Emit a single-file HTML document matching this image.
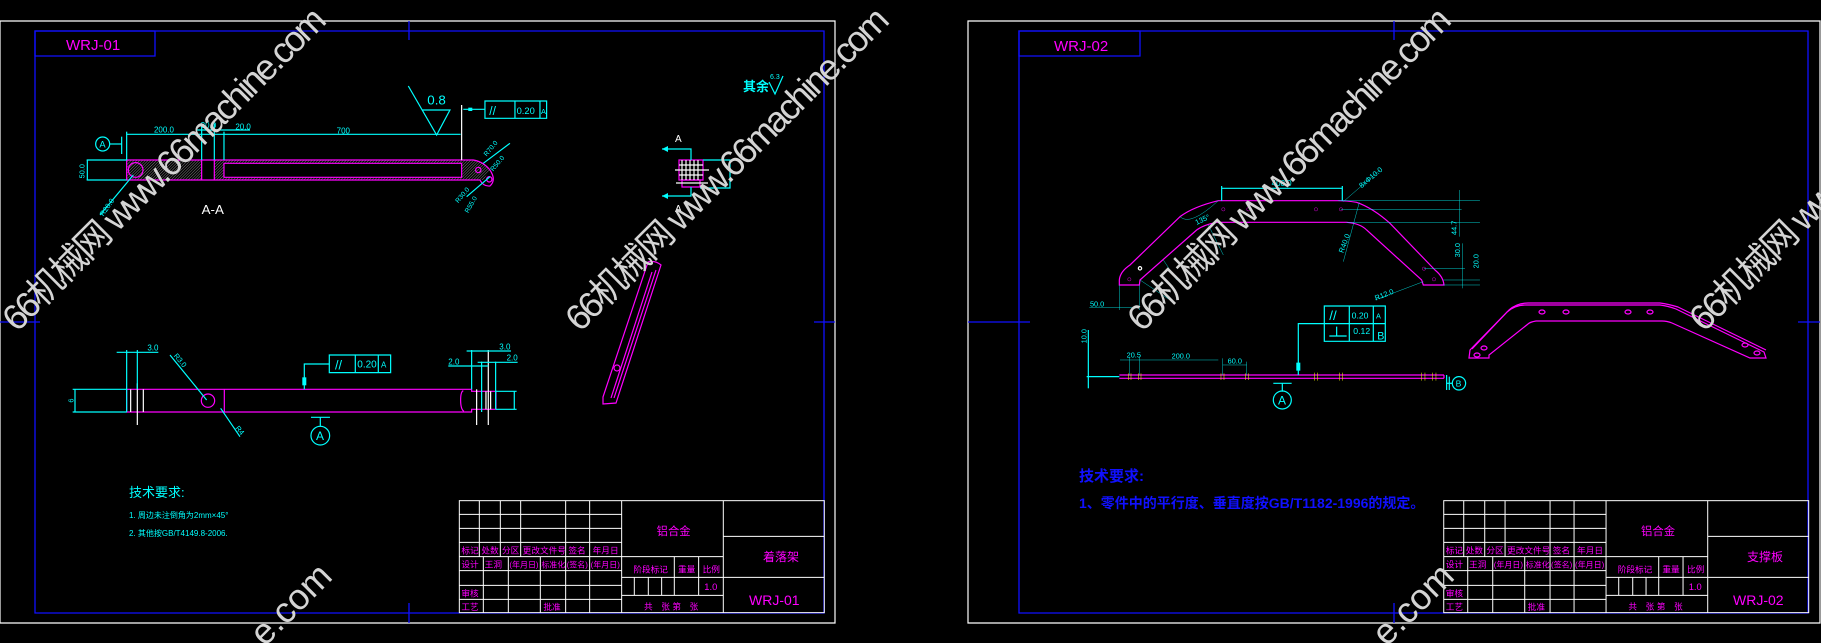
<!DOCTYPE html>
<html><head><meta charset="utf-8"><style>
html,body{margin:0;padding:0;background:#000;width:1821px;height:643px;overflow:hidden;}
svg{display:block;}
text{font-family:"Liberation Sans","Noto Sans CJK SC",sans-serif;}
.m{fill:none;stroke:#ff00ff;stroke-width:1.2;vector-effect:non-scaling-stroke;}
.c{fill:none;stroke:#00ffff;stroke-width:1.2;vector-effect:non-scaling-stroke;}
.w{fill:none;stroke:#ffffff;stroke-width:1.2;vector-effect:non-scaling-stroke;}
.y{fill:none;stroke:#ffff00;stroke-width:1.5;vector-effect:non-scaling-stroke;}
.b{fill:none;stroke:#1010ff;stroke-width:1.3;vector-effect:non-scaling-stroke;}
.ct{fill:#00ffff;}
.mt{fill:#ff00ff;}
.wm{fill:#d4d4d4;font-size:36px;}
</style></head><body>
<svg width="1821" height="643" viewBox="0 0 1821 643" xmlns="http://www.w3.org/2000/svg">
<defs>
<pattern id="h" width="6" height="6" patternUnits="userSpaceOnUse" patternTransform="rotate(45)">
<line x1="0" y1="0" x2="0" y2="6" stroke="#fff" stroke-width="1.5"/></pattern>
<g id="tb">
<rect x="58" y="62" width="1095" height="336" fill="none" stroke="#fff" stroke-width="3"/>
<g stroke="#fff" stroke-width="3">
<line x1="58" y1="103" x2="545" y2="103"/><line x1="58" y1="145" x2="545" y2="145"/>
<line x1="58" y1="187" x2="545" y2="187"/><line x1="58" y1="230" x2="850" y2="230"/>
<line x1="58" y1="272" x2="545" y2="272"/><line x1="58" y1="316" x2="545" y2="316"/>
<line x1="58" y1="358" x2="545" y2="358"/>
<line x1="118" y1="62" x2="118" y2="230"/><line x1="181" y1="62" x2="181" y2="230"/>
<line x1="242" y1="62" x2="242" y2="230"/><line x1="377" y1="62" x2="377" y2="398"/>
<line x1="449" y1="62" x2="449" y2="398"/><line x1="545" y1="62" x2="545" y2="398"/>
<line x1="130" y1="230" x2="130" y2="398"/><line x1="205" y1="230" x2="205" y2="398"/>
<line x1="301" y1="230" x2="301" y2="398"/>
<line x1="850" y1="62" x2="850" y2="398"/>
<line x1="545" y1="292" x2="850" y2="292"/><line x1="545" y1="346" x2="850" y2="346"/>
<line x1="703" y1="230" x2="703" y2="346"/><line x1="776" y1="230" x2="776" y2="346"/>
<line x1="583" y1="292" x2="583" y2="346"/><line x1="625" y1="292" x2="625" y2="346"/><line x1="665" y1="292" x2="665" y2="346"/>
<line x1="850" y1="169" x2="1153" y2="169"/><line x1="850" y1="292" x2="1153" y2="292"/>
</g>
<g class="mt" font-size="26">
<text x="64" y="220">标记</text><text x="124" y="220">处数</text><text x="186" y="220">分区</text>
<text x="248" y="220">更改文件号</text><text x="385" y="220">签名</text><text x="458" y="220">年月日</text>
<text x="64" y="262">设计</text><text x="134" y="262">王洞</text><text x="208" y="262" font-size="24">(年月日)</text>
<text x="304" y="262" font-size="24">标准化</text><text x="380" y="262" font-size="24">(签名)</text><text x="452" y="262" font-size="24">(年月日)</text>
<text x="64" y="350">审核</text><text x="64" y="390">工艺</text><text x="310" y="390">批准</text>
<text x="580" y="278">阶段标记</text><text x="714" y="278">重量</text><text x="788" y="278">比例</text>
<text x="793" y="330" font-size="28">1.0</text>
<text x="612" y="388">共　张 第　张</text>
<text x="650" y="165" font-size="34">铝合金</text>
</g>
</g>
</defs>

<rect x="0" y="21" width="835" height="602" class="w"/>
<rect x="35" y="31" width="789" height="582" class="b"/>
<rect x="35" y="31" width="120" height="25" class="b"/>
<line x1="409" y1="21" x2="409" y2="40" class="b"/><line x1="409" y1="603" x2="409" y2="623" class="b"/>
<line x1="0" y1="322" x2="40" y2="322" class="b"/><line x1="814" y1="322" x2="835" y2="322" class="b"/>
<text x="66" y="50" class="mt" font-size="15">WRJ-01</text>

<rect x="968" y="21" width="852" height="602" class="w"/>
<rect x="1019" y="31" width="789" height="582" class="b"/>
<rect x="1019" y="31" width="121" height="25" class="b"/>
<line x1="1394" y1="21" x2="1394" y2="40" class="b"/><line x1="1394" y1="603" x2="1394" y2="623" class="b"/>
<line x1="968" y1="322" x2="1030" y2="322" class="b"/><line x1="1798" y1="322" x2="1820" y2="322" class="b"/>
<text x="1054" y="51" class="mt" font-size="15">WRJ-02</text>

<g transform="translate(440,480) scale(0.3333)"><use href="#tb"/></g>
<g transform="translate(1424.4,480) scale(0.3333)"><use href="#tb"/></g>
<text x="749" y="605" class="mt" font-size="14">WRJ-01</text>
<text x="1733" y="605" class="mt" font-size="14">WRJ-02</text>
<text x="763" y="561" class="mt" font-size="12">着落架</text>
<text x="1747" y="561" class="mt" font-size="12">支撑板</text>

<g transform="translate(50,80) scale(0.3333)">
<rect x="230" y="240" width="225" height="60" fill="url(#h)"/>
<rect x="493" y="240" width="29" height="60" fill="url(#h)"/>
<rect x="522" y="240" width="713" height="10" fill="url(#h)"/>
<rect x="522" y="292" width="713" height="8" fill="url(#h)"/>
<path d="M1235,240 L1270,240 Q1300,245 1320,270 L1300,300 L1235,300Z" fill="url(#h)"/>
<path class="m" d="M230,240 L1270,240 Q1300,245 1320,270 Q1340,300 1320,318 Q1300,320 1290,300 L230,300 Z"/>
<line class="m" x1="455" y1="240" x2="455" y2="300"/><line class="m" x1="493" y1="240" x2="493" y2="300"/>
<rect class="m" x="522" y="250" width="713" height="42"/>
<circle class="m" cx="257" cy="270" r="22"/><circle class="m" cx="1285" cy="270" r="8"/><circle class="m" cx="1318" cy="298" r="8"/>
<line class="c" x1="230" y1="163" x2="1232" y2="163"/>
<line class="c" x1="230" y1="155" x2="230" y2="240"/><line class="c" x1="455" y1="130" x2="455" y2="240"/>
<line class="c" x1="493" y1="130" x2="493" y2="240"/><line class="c" x1="522" y1="155" x2="522" y2="240"/>
<line class="w" x1="1235" y1="75" x2="1235" y2="240"/>
<line class="c" x1="440" y1="150" x2="600" y2="150"/>
<g class="ct" font-size="24"><text x="312" y="158">200.0</text><text x="452" y="144">30.0</text><text x="556" y="148">20.0</text><text x="860" y="160">700</text></g>
<path class="c" d="M1075,18 L1160,165 L1200,90 L1118,90"/>
<text x="1132" y="74" class="ct" font-size="40">0.8</text>
<line class="c" x1="1240" y1="88" x2="1305" y2="88"/><rect x="1255" y="83" width="12" height="10" class="ct"/>
<rect class="c" x="1305" y="63" width="185" height="52"/>
<line class="c" x1="1395" y1="63" x2="1395" y2="115"/><line class="c" x1="1470" y1="63" x2="1470" y2="115"/>
<text x="1318" y="105" class="ct" font-size="36">//</text><text x="1400" y="102" class="ct" font-size="28">0.20</text><text x="1473" y="102" class="ct" font-size="22">A</text>
<circle class="c" cx="158" cy="192" r="21"/><text x="148" y="202" class="ct" font-size="28">A</text>
<line class="c" x1="178" y1="192" x2="215" y2="192"/><line class="c" x1="215" y1="170" x2="215" y2="222"/>
<line class="c" x1="110" y1="240" x2="230" y2="240"/><line class="c" x1="110" y1="300" x2="230" y2="300"/><line class="c" x1="112" y1="240" x2="112" y2="300"/>
<text transform="translate(104,295) rotate(-90)" class="ct" font-size="22">50.0</text>
<line class="c" x1="250" y1="285" x2="150" y2="405"/>
<text transform="translate(160,410) rotate(-55)" class="ct" font-size="22">R20.0</text>
<line class="c" x1="1300" y1="250" x2="1380" y2="190"/><line class="c" x1="1250" y1="350" x2="1320" y2="290"/>
<text transform="translate(1310,230) rotate(-50)" class="ct" font-size="20">R70.0</text>
<text transform="translate(1330,275) rotate(-50)" class="ct" font-size="20">R50.0</text>
<text transform="translate(1225,370) rotate(-50)" class="ct" font-size="20">R30.0</text>
<text transform="translate(1255,400) rotate(-60)" class="ct" font-size="20">R55.0</text>
<text x="455" y="402" fill="#fff" font-size="40">A-A</text>
</g>

<g transform="translate(50,330) scale(0.3333)">
<path class="m" d="M230,178 L1265,178 L1265,184 L1338,184 L1338,238 L1265,238 L1265,246 L230,246 Z"/>
<path class="m" d="M1240,182 Q1232,185 1232,210 Q1232,238 1242,244"/>
<line class="m" x1="523" y1="178" x2="523" y2="246"/>
<circle class="m" cx="474" cy="212" r="20"/>
<line class="c" x1="68" y1="178" x2="230" y2="178"/><line class="c" x1="68" y1="246" x2="230" y2="246"/><line class="c" x1="75" y1="178" x2="75" y2="246"/>
<text transform="translate(70,218) rotate(-90)" class="ct" font-size="22">6</text>
<line class="c" x1="230" y1="60" x2="230" y2="246"/><line class="w" x1="262" y1="160" x2="262" y2="285"/><line class="c" x1="262" y1="60" x2="262" y2="178"/>
<line class="w" x1="242" y1="178" x2="242" y2="246"/><line class="w" x1="280" y1="178" x2="280" y2="246"/>
<line class="c" x1="200" y1="67" x2="325" y2="67"/><text x="292" y="62" class="ct" font-size="24">3.0</text>
<line class="c" x1="1265" y1="60" x2="1265" y2="178"/><line class="w" x1="1280" y1="178" x2="1280" y2="285"/>
<line class="c" x1="1295" y1="95" x2="1295" y2="246"/><line class="w" x1="1315" y1="60" x2="1315" y2="285"/>
<line class="w" x1="1308" y1="184" x2="1308" y2="238"/><line class="w" x1="1322" y1="184" x2="1322" y2="238"/>
<line class="c" x1="1337" y1="95" x2="1337" y2="238"/>
<line class="c" x1="1250" y1="63" x2="1383" y2="63"/><line class="c" x1="1283" y1="97" x2="1403" y2="97"/><line class="c" x1="1195" y1="108" x2="1315" y2="108"/>
<text x="1348" y="58" class="ct" font-size="24">3.0</text><text x="1370" y="92" class="ct" font-size="24">2.0</text><text x="1195" y="103" class="ct" font-size="24">2.0</text>
<line class="c" x1="1338" y1="184" x2="1400" y2="184"/><line class="c" x1="1338" y1="238" x2="1400" y2="238"/><line class="c" x1="1393" y1="184" x2="1393" y2="238"/>
<rect class="c" x="838" y="75" width="184" height="53"/><line class="c" x1="916" y1="75" x2="916" y2="128"/><line class="c" x1="985" y1="75" x2="985" y2="128"/>
<text x="855" y="118" class="ct" font-size="38">//</text><text x="922" y="113" class="ct" font-size="30">0.20</text><text x="993" y="113" class="ct" font-size="24">A</text>
<path class="c" d="M838,102 L763,102 L763,178"/><rect x="757" y="142" width="12" height="24" class="ct"/>
<line class="c" x1="783" y1="262" x2="840" y2="262"/><line class="c" x1="811" y1="262" x2="811" y2="290"/>
<circle class="c" cx="811" cy="317" r="28"/><text x="798" y="330" class="ct" font-size="36">A</text>
<line class="c" x1="360" y1="75" x2="470" y2="210"/><line class="c" x1="512" y1="235" x2="570" y2="320"/>
<text transform="translate(370,78) rotate(50)" class="ct" font-size="22">R3.0</text>
<text transform="translate(555,295) rotate(50)" class="ct" font-size="22">R4</text>
</g>

<rect class="m" x="679" y="160" width="24" height="20"/>
<rect class="m" x="682" y="180" width="18" height="7"/>
<g class="w"><line x1="682" y1="160" x2="682" y2="180"/><line x1="686" y1="160" x2="686" y2="180"/><line x1="690" y1="160" x2="690" y2="180"/><line x1="694" y1="160" x2="694" y2="180"/><line x1="698" y1="160" x2="698" y2="180"/>
<line x1="679" y1="165" x2="703" y2="165"/><line x1="675" y1="170" x2="709" y2="170"/><line x1="679" y1="175" x2="703" y2="175"/><line x1="676" y1="183" x2="708" y2="183"/></g>
<path class="c" d="M662,149 L691,149 L691,160"/><path class="c" d="M662,196 L691,196 L691,187"/>
<polygon points="662,149 668,146 668,152" class="ct"/><polygon points="662,196 668,193 668,199" class="ct"/>
<path class="c" d="M703,160 L730,160 L730,188 L700,188"/>
<text x="675" y="142" fill="#fff" font-size="10">A</text><text x="675" y="212" fill="#fff" font-size="10">A</text>
<text x="743" y="91" class="ct" font-size="13" font-weight="bold">其余</text>
<path class="c" d="M769,82 L775,94 L783,76"/><text x="770" y="79" class="ct" font-size="7">6.3</text>

<path class="m" d="M648,262 Q655,260 661,265 L616,403 L603,404 L603,397 Z"/>
<line class="m" x1="656" y1="270" x2="614" y2="398"/><line class="m" x1="652" y1="272" x2="611" y2="398"/>
<circle class="m" cx="617" cy="368" r="3"/>

<text x="129" y="497" class="ct" font-size="13">技术要求:</text>
<text x="129" y="518" class="ct" font-size="8">1. 周边未注倒角为2mm×45°</text>
<text x="129" y="536" class="ct" font-size="8">2. 其他按GB/T4149.8-2006.</text>

<g transform="translate(1080,170) scale(0.3333)">
<path class="m" d="M118,345 L118,330 Q120,305 150,285 L300,140 Q340,110 415,92 L775,92 Q800,92 830,97 Q880,115 930,160 L1065,300 Q1090,320 1092,345 L1030,345 L1025,330 L860,180 Q840,160 800,157 L410,157 Q370,165 350,180 L180,330 L178,345 Z"/>
<g class="m"><circle cx="148" cy="328" r="5"/><circle cx="430" cy="118" r="5"/><circle cx="505" cy="118" r="5"/><circle cx="708" cy="118" r="5"/><circle cx="783" cy="118" r="5"/><circle cx="1032" cy="296" r="5"/><circle cx="1062" cy="328" r="5"/></g>
<circle class="w" cx="180" cy="295" r="5"/>
<line class="c" x1="425" y1="55" x2="787" y2="55"/><line class="c" x1="425" y1="48" x2="425" y2="92"/><line class="c" x1="787" y1="48" x2="787" y2="92"/>
<text x="575" y="48" class="ct" font-size="24">400.0</text>
<g class="c"><line x1="775" y1="92" x2="1200" y2="92"/><line x1="783" y1="118" x2="1145" y2="118"/><line x1="800" y1="157" x2="1200" y2="157"/>
<line x1="1032" y1="296" x2="1155" y2="296"/><line x1="1090" y1="330" x2="1200" y2="330"/><line x1="1090" y1="345" x2="1200" y2="345"/>
<line x1="1138" y1="60" x2="1138" y2="200"/><line x1="1148" y1="220" x2="1148" y2="355"/>
<line x1="28" y1="413" x2="178" y2="413"/><line x1="118" y1="345" x2="118" y2="420"/><line x1="178" y1="345" x2="178" y2="420"/>
<line x1="885" y1="390" x2="1030" y2="335"/><line x1="790" y1="95" x2="900" y2="0"/><line x1="838" y1="97" x2="790" y2="275"/>
<path d="M300,140 Q330,170 415,92"/><line x1="385" y1="165" x2="430" y2="255"/><line x1="250" y1="270" x2="290" y2="330"/><line x1="180" y1="330" x2="270" y2="390"/></g>
<g class="ct" font-size="22"><text x="30" y="410">50.0</text>
<text transform="translate(888,392) rotate(-22)">R12.0</text><text transform="translate(845,55) rotate(-40)">8xΦ10.0</text>
<text transform="translate(790,250) rotate(-70)">R40.0</text><text transform="translate(350,165) rotate(-25)">135°</text>
<text transform="translate(1130,195) rotate(-90)">44.7</text><text transform="translate(1140,262) rotate(-90)">30.0</text><text transform="translate(1195,295) rotate(-90)">20.0</text></g>
<line class="m" x1="118" y1="615" x2="1092" y2="615"/><line class="m" x1="118" y1="625" x2="1092" y2="625"/><line class="m" x1="1092" y1="615" x2="1092" y2="625"/>
<line class="c" x1="20" y1="620" x2="118" y2="620"/><line class="c" x1="25" y1="480" x2="25" y2="655"/>
<text transform="translate(20,520) rotate(-90)" class="ct" font-size="22">10.0</text>
<g class="c"><line x1="120" y1="570" x2="415" y2="570"/><line x1="428" y1="585" x2="500" y2="585"/>
<line x1="148" y1="560" x2="148" y2="615"/><line x1="178" y1="560" x2="178" y2="615"/><line x1="428" y1="565" x2="428" y2="615"/><line x1="500" y1="575" x2="500" y2="615"/></g>
<g class="ct" font-size="22"><text x="140" y="562">20.5</text><text x="275" y="565">200.0</text><text x="443" y="580">60.0</text></g>
<g class="y"><line x1="145" y1="610" x2="145" y2="630"/><line x1="153" y1="610" x2="153" y2="630"/><line x1="175" y1="610" x2="175" y2="630"/><line x1="183" y1="610" x2="183" y2="630"/>
<line x1="423" y1="610" x2="423" y2="630"/><line x1="432" y1="610" x2="432" y2="630"/><line x1="497" y1="610" x2="497" y2="630"/><line x1="505" y1="610" x2="505" y2="630"/>
<line x1="703" y1="608" x2="703" y2="632"/><line x1="713" y1="608" x2="713" y2="632"/><line x1="778" y1="608" x2="778" y2="632"/><line x1="788" y1="608" x2="788" y2="632"/>
<line x1="1025" y1="608" x2="1025" y2="632"/><line x1="1035" y1="608" x2="1035" y2="632"/><line x1="1058" y1="608" x2="1058" y2="632"/><line x1="1068" y1="608" x2="1068" y2="632"/></g>
<rect class="c" x="733" y="408" width="183" height="106"/><line class="c" x1="733" y1="461" x2="916" y2="461"/>
<line class="c" x1="808" y1="408" x2="808" y2="514"/><line class="c" x1="880" y1="408" x2="880" y2="514"/>
<text x="748" y="450" class="ct" font-size="40">//</text><path class="c" d="M770,470 L770,498 M748,498 L800,498"/>
<text x="815" y="445" class="ct" font-size="26">0.20</text><text x="820" y="492" class="ct" font-size="26">0.12</text>
<text x="888" y="445" class="ct" font-size="22">A</text><text x="892" y="508" class="ct" font-size="32">B</text>
<path class="c" d="M733,461 L655,461 L655,615"/><rect x="649" y="578" width="12" height="24" class="ct"/>
<line class="c" x1="580" y1="640" x2="635" y2="640"/><line class="c" x1="607" y1="640" x2="607" y2="665"/>
<circle class="c" cx="607" cy="690" r="27"/><text x="594" y="703" class="ct" font-size="36">A</text>
<line class="c" x1="1100" y1="615" x2="1100" y2="660"/><line class="c" x1="1108" y1="620" x2="1108" y2="660"/><line class="c" x1="1100" y1="640" x2="1117" y2="640"/>
<circle class="c" cx="1137" cy="640" r="20"/><text x="1127" y="650" class="ct" font-size="26">B</text>
</g>

<path class="m" d="M1469,358 L1470,350 L1507,312 Q1515,305 1526,305 L1660,305 Q1668,306 1676,309 L1764,352 L1766,358 L1750,358 L1672,323 Q1667,321 1662,321 L1536,321 Q1530,322 1528,324 L1489,355 L1489,358 Z"/>
<path class="m" d="M1472,349 L1509,310 Q1517,303 1528,303 L1660,303 Q1668,304 1678,307 L1766,350"/>
<g class="m"><ellipse cx="1477" cy="355" rx="3" ry="2"/><ellipse cx="1484" cy="348" rx="3" ry="2"/><ellipse cx="1542" cy="312" rx="3" ry="2"/><ellipse cx="1566" cy="312" rx="3" ry="2"/><ellipse cx="1628" cy="312" rx="3" ry="2"/><ellipse cx="1650" cy="312" rx="3" ry="2"/><ellipse cx="1745" cy="345" rx="3" ry="2"/><ellipse cx="1757" cy="353" rx="3" ry="2"/></g>

<text x="1079" y="481" fill="#1010ff" font-size="15" font-weight="bold">技术要求:</text>
<text x="1079" y="508" fill="#1010ff" font-size="14" font-weight="bold" font-family="Liberation Serif, Noto Serif CJK SC, serif">1、零件中的平行度、垂直度按GB/T1182-1996的规定。</text>

<g class="wm">
<text transform="translate(17,333) rotate(-45)" textLength="440">66机械网 www.66machine.com</text>
<text transform="translate(580,333) rotate(-45)" textLength="440">66机械网 www.66machine.com</text>
<text transform="translate(1142,333) rotate(-45)" textLength="440">66机械网 www.66machine.com</text>
<text transform="translate(1704,333) rotate(-45)" textLength="440">66机械网 www.66machine.com</text>
<text transform="translate(334,578) rotate(-45)" text-anchor="end">e.com</text>
<text transform="translate(1456,578) rotate(-45)" text-anchor="end">e.com</text>
</g>
</svg>
</body></html>
